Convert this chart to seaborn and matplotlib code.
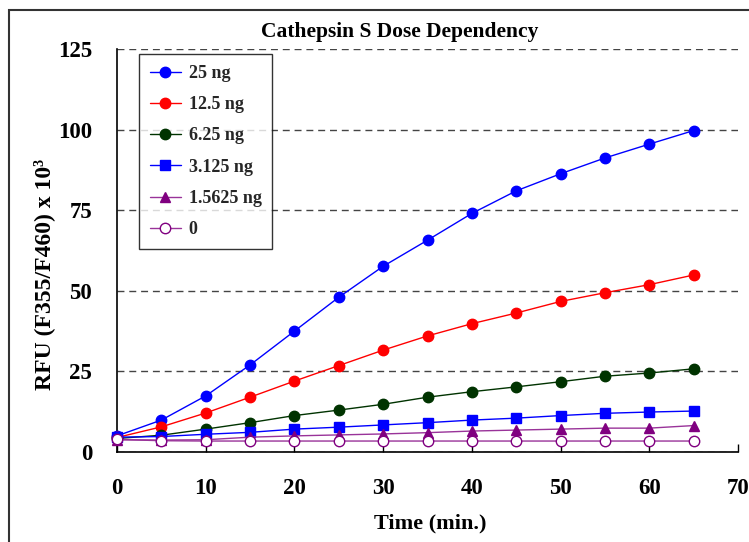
import numpy as np
import pandas as pd
import matplotlib
matplotlib.use("Agg")
import matplotlib.pyplot as plt
import seaborn as sns
from matplotlib.patches import Rectangle

# ---- data ----
time_min = [0, 5, 10, 15, 20, 25, 30, 35, 40, 45, 50, 55, 60, 65]
rfu_25ng = [5.0, 9.9, 17.4, 27.0, 37.5, 48.0, 57.6, 65.7, 74.0, 81.0, 86.3, 91.2, 95.5, 99.7]
rfu_12_5ng = [4.5, 7.8, 12.1, 17.0, 22.0, 26.8, 31.6, 36.0, 39.8, 43.1, 46.7, 49.4, 51.9, 54.9]
rfu_6_25ng = [4.2, 5.2, 7.1, 9.1, 11.3, 13.0, 14.8, 17.0, 18.7, 20.2, 21.8, 23.5, 24.5, 25.8]
rfu_3_125ng = [4.6, 4.8, 5.5, 6.1, 7.1, 7.7, 8.4, 9.1, 9.9, 10.5, 11.3, 12.0, 12.4, 12.7]
rfu_1_5625ng = [3.8, 3.7, 3.8, 4.6, 5.0, 5.3, 5.6, 6.0, 6.5, 6.8, 7.1, 7.4, 7.4, 8.2]
rfu_0 = [3.9, 3.5, 3.4, 3.4, 3.4, 3.4, 3.4, 3.4, 3.4, 3.4, 3.4, 3.4, 3.4, 3.4]

series_labels = ["25 ng", "12.5 ng", "6.25 ng", "3.125 ng", "1.5625 ng", "0"]
series_values = [rfu_25ng, rfu_12_5ng, rfu_6_25ng, rfu_3_125ng, rfu_1_5625ng, rfu_0]
y_ticks = [0, 25, 50, 75, 100, 125]
x_ticks = [0, 10, 20, 30, 40, 50, 60, 70]

df = pd.DataFrame({
    "Time": np.tile(time_min, len(series_labels)),
    "RFU": np.concatenate(series_values),
    "Dose": np.repeat(series_labels, len(time_min)),
})

styles = {
    "25 ng": dict(color="#0000FF", marker="o", mfc="#0000FF", mec="#0000FF", ms=7.5),
    "12.5 ng": dict(color="#FF0000", marker="o", mfc="#FF0000", mec="#FF0000", ms=7.5),
    "6.25 ng": dict(color="#003300", marker="o", mfc="#003300", mec="#003300", ms=7.5),
    "3.125 ng": dict(color="#0000FF", marker="s", mfc="#0000FF", mec="#0000FF", ms=7),
    "1.5625 ng": dict(color="#993399", marker="^", mfc="#800080", mec="#800080", ms=7.5),
    "0": dict(color="#993399", marker="o", mfc="white", mec="#800080", ms=7.5),
}

# ---- style ----
sns.set_theme(style="white")
plt.rcParams['font.family'] = ['Liberation Serif', 'DejaVu Serif']
plt.rcParams['font.weight'] = 'bold'
plt.rcParams['axes.labelweight'] = 'bold'

W, H = 749, 542
fig = plt.figure(figsize=(W / 100, H / 100), dpi=100)
ax = fig.add_axes([117 / W, (H - 452) / H, (738 - 117) / W, (452 - 49) / H])

for lab in series_labels:
    st = styles[lab]
    sub = df[df["Dose"] == lab]
    sns.lineplot(data=sub, x="Time", y="RFU", ax=ax, color=st["color"],
                 marker=st["marker"], markersize=st["ms"],
                 markerfacecolor=st["mfc"], markeredgecolor=st["mec"],
                 markeredgewidth=1.0, linewidth=1.0, label=lab,
                 clip_on=False, zorder=3)

ax.set_xlim(0, 70)
ax.set_ylim(0, 125)
ax.set_xticks(x_ticks)
ax.set_yticks(y_ticks)
ax.set_xlabel("")
ax.set_ylabel("")

ax.yaxis.grid(True, linestyle=(0, (5, 3.5)), color="#444444", linewidth=1.0)
ax.xaxis.grid(False)
ax.set_axisbelow(True)

for s in ["top", "right"]:
    ax.spines[s].set_visible(False)
for s in ["left", "bottom"]:
    ax.spines[s].set_color("black")
    ax.spines[s].set_linewidth(1.2)
    ax.spines[s].set_zorder(2)

ax.tick_params(axis="x", direction="in", length=6, width=1, colors="black",
               labelsize=16.5, pad=19, bottom=True)
ax.tick_params(axis="y", direction="in", length=0, width=1, colors="black",
               labelsize=16.5, pad=18, left=True)
for t in ax.get_xticklabels() + ax.get_yticklabels():
    t.set_fontweight("bold")

# labels & title
fig.text(400 / W, 1 - 32 / H, "Cathepsin S Dose Dependency", ha="center",
         va="center", fontsize=15.5, fontweight="bold", color="black")
fig.text(430 / W, 1 - 523 / H, "Time (min.)", ha="center", va="center",
         fontsize=16, fontweight="bold", color="black")
fig.text(44 / W, 1 - 274 / H, "RFU (F355/F460) x 10³", ha="center", va="center",
         rotation=90, fontsize=17, fontweight="bold", color="black")

# legend
leg = ax.legend(loc="upper left", bbox_to_anchor=(139 / W, 1 - 54 / H),
                bbox_transform=fig.transFigure, frameon=True, fancybox=False,
                shadow=False, fontsize=13, handlelength=1.7, handletextpad=0.45,
                labelspacing=0.79, borderpad=0.6, borderaxespad=0)
leg.get_frame().set_edgecolor("black")
leg.get_frame().set_linewidth(1.0)
for t in leg.get_texts():
    t.set_fontweight("bold")

# outer frame of the figure
fig.patches.append(Rectangle((9 / W, -0.1), 1.2, 1 - 10 / H + 0.1,
                             transform=fig.transFigure, fill=False,
                             edgecolor="#333333", linewidth=1.5))

fig.savefig("out.png", dpi=100)
